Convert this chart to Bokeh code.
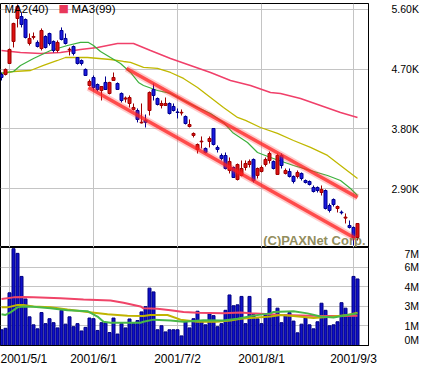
from bokeh.plotting import figure
from bokeh.layouts import column
from bokeh.models import ColumnDataSource, Range1d, FixedTicker, Grid, Label
from bokeh.embed import file_html
from bokeh.resources import INLINE

# ---------------- data ----------------
opens = [4620, 4620, 4786, 5118, 5464, 5494, 5449, 5087, 5180, 5103,
         5012, 5193, 5238, 5118, 4982, 5283, 5163, 4990, 5042, 4876,
         4831, 4696, 4454, 4575, 4469, 4379, 4500, 4334, 4530, 4484,
         4334, 4250, 4183, 4093, 4077, 3890, 3930, 4077, 4394, 4258,
         4153, 4153, 4183, 4138, 4055, 4040, 3987, 3836, 3701, 3490,
         3605, 3505, 3610, 3806, 3520, 3399, 3399, 3173, 3218, 3037,
         3098, 3218, 3263, 3339, 3098, 3158, 3263, 3324, 3309, 3113,
         3399, 3128, 3158, 3083, 3083, 3128, 3022, 3007, 2917, 2917,
         2841, 2871, 2645, 2736, 2600, 2545, 2455, 2344, 2314, 2163]
highs = [4650, 4711, 5012, 5400, 5675, 5555, 5464, 5238, 5253, 5133,
         5314, 5210, 5250, 5133, 5133, 5329, 5238, 5027, 5057, 4880,
         4846, 4711, 4545, 4605, 4484, 4445, 4590, 4510, 4650, 4500,
         4349, 4288, 4304, 4183, 4108, 4183, 4017, 4364, 4484, 4273,
         4228, 4273, 4198, 4183, 4108, 4093, 4002, 3942, 3746, 3580,
         3686, 3520, 3686, 3810, 3550, 3429, 3444, 3369, 3233, 3278,
         3324, 3324, 3339, 3354, 3218, 3248, 3369, 3459, 3324, 3429,
         3429, 3203, 3203, 3098, 3173, 3143, 3037, 3022, 2947, 2932,
         2947, 2887, 2675, 2751, 2645, 2570, 2525, 2419, 2329, 2374]
lows = [4530, 4605, 4780, 5027, 5329, 5329, 5163, 5057, 5148, 5027,
        4982, 5012, 5057, 4952, 4952, 5133, 5072, 4907, 4907, 4770,
        4756, 4600, 4439, 4379, 4364, 4228, 4390, 4320, 4525, 4390,
        4198, 4198, 4123, 4077, 3897, 3881, 3821, 4002, 4228, 4153,
        4108, 4150, 4017, 4062, 3957, 4002, 3866, 3821, 3671, 3429,
        3505, 3429, 3520, 3550, 3444, 3324, 3188, 3128, 3060, 3022,
        3083, 3173, 3218, 2992, 3052, 3143, 3233, 3278, 3188, 3113,
        3203, 3113, 3067, 2977, 3052, 3022, 2977, 2947, 2841, 2841,
        2796, 2585, 2540, 2630, 2540, 2510, 2374, 2299, 2042, 2118]
closes = [4575, 4696, 4997, 5389, 5645, 5374, 5178, 5163, 5193, 5042,
          5283, 5027, 5087, 4982, 5103, 5148, 5087, 5000, 4937, 4786,
          4786, 4605, 4515, 4424, 4394, 4439, 4394, 4500, 4575, 4394,
          4228, 4265, 4273, 4123, 3942, 3900, 3900, 4349, 4304, 4168,
          4183, 4183, 4032, 4077, 4047, 4050, 3881, 3866, 3731, 3565,
          3615, 3444, 3655, 3565, 3490, 3354, 3203, 3309, 3067, 3263,
          3203, 3278, 3309, 3022, 3203, 3218, 3339, 3429, 3203, 3399,
          3248, 3173, 3083, 3007, 3143, 3052, 2992, 2962, 2856, 2871,
          2887, 2600, 2570, 2660, 2630, 2535, 2470, 2314, 2163, 2374]
# volume in millions of shares
volumes = [1.18, 1.29, 3.95, 7.26, 6.91, 5.18, 3.49, 2.15, 1.55, 1.25,
           2.47, 1.64, 2.01, 1.71, 1.32, 2.64, 1.60, 2.15, 1.41, 1.64,
           1.09, 1.36, 2.06, 2.01, 1.13, 1.71, 1.71, 0.97, 2.06, 0.86,
           1.64, 1.32, 1.99, 1.64, 1.87, 2.52, 2.91, 4.30, 4.02, 1.18,
           1.48, 1.02, 1.18, 1.18, 1.18, 0.72, 1.78, 1.32, 2.01, 2.57,
           1.83, 1.55, 2.38, 2.24, 1.41, 1.64, 2.64, 3.79, 2.98, 3.05,
           3.68, 1.64, 3.68, 2.33, 2.00, 1.64, 2.29, 3.51, 2.29, 2.80,
           1.71, 2.29, 2.47, 1.83, 0.95, 1.60, 2.06, 1.55, 1.25, 1.78,
           3.17, 2.64, 1.48, 1.55, 1.78, 3.21, 2.80, 2.30, 5.18, 4.99]

# moving averages (bar index, value)
ma1_x = [0, 3, 4.75, 8, 12.25, 16.5, 19.75, 21.75, 23, 24.75, 27.25, 29.75, 32.25, 34.25,
         35.5, 39, 42.25, 45.5, 49, 52.25, 55.5, 57.75, 61.5, 64, 67.25, 73, 77.25, 81.5,
         84.75, 87.25, 89]
ma1_y = [4640, 4665, 4756, 4861, 4982, 5057, 5103, 5103, 5057, 4967, 4876, 4786, 4650, 4500,
         4454, 4379, 4334, 4228, 4123, 4032, 3897, 3746, 3595, 3444, 3369, 3248, 3173, 3098,
         3022, 2902, 2796]
ma2_x = [0, 3, 7.25, 10.5, 14, 16, 21.5, 27.25, 30.5, 32.25, 35.5, 39, 42.25, 45.5, 49,
         52.25, 55.5, 59, 61, 64.75, 69, 73, 77.25, 81.5, 84.75, 89]
ma2_y = [4635, 4665, 4680, 4756, 4831, 4876, 4876, 4846, 4816, 4801, 4726, 4711, 4650, 4560,
         4424, 4273, 4123, 3972, 3927, 3821, 3731, 3625, 3520, 3400, 3248, 3052]
ma3_x = [0, 4.75, 9.75, 14.75, 19.75, 24, 29, 33, 37.25, 42.25, 47.25, 52.25, 57.25, 62.25,
         67.25, 69.75, 74.75, 79.75, 84.75, 89]
ma3_y = [4982, 4952, 4937, 4952, 4997, 5027, 5087, 5087, 4982, 4861, 4756, 4650, 4530, 4454,
         4349, 4334, 4258, 4153, 4047, 3972]

# trend channel
chan_up_x = [31.25, 89]
chan_up_y = [4711, 2766]
chan_lo_x = [21.75, 88.5]
chan_lo_y = [4424, 2148]

# volume moving averages
vma1_x = [0, 1, 2.25, 4, 5.5, 8, 12.25, 16.5, 21.5, 24, 25.5, 27.25, 34.75, 35.5, 38, 42.25,
          45.5, 50.5, 55.5, 59, 63, 67.25, 68, 73, 76.5, 79.75, 83, 86.5, 89]
vma1_y = [2.34, 2.29, 2.48, 2.86, 2.93, 2.91, 2.79, 2.64, 2.57, 2.17, 1.78, 1.71, 1.71, 1.78,
          1.94, 1.87, 1.78, 1.89, 1.87, 2.01, 2.24, 2.41, 2.52, 2.57, 2.41, 2.17, 2.10, 2.29, 2.41]
vma2_x = [0, 1.5, 4, 5.5, 8, 12.25, 16.5, 21.5, 26.5, 31.5, 35.5, 37.25, 41.5, 44.75, 49,
          53.75, 57.25, 59.75, 64, 67.25, 69.75, 73, 78, 83, 86.5, 89]
vma2_y = [2.86, 2.86, 3.03, 3.03, 2.93, 2.86, 2.70, 2.52, 2.34, 2.24, 2.22, 2.29, 2.29, 1.94,
          1.78, 1.78, 1.87, 2.01, 2.10, 2.17, 2.29, 2.22, 2.06, 2.17, 2.29, 2.45]
vma3_x = [0, 3, 5.5, 8, 14.75, 20.5, 27.25, 30.5, 34.75, 35.5, 39, 42.25, 45.5, 49, 55.5,
          59.75, 62.25, 67.25, 69.75, 77.25, 84.75, 89]
vma3_y = [3.49, 3.61, 3.63, 3.61, 3.54, 3.45, 3.38, 3.21, 2.93, 2.79, 2.75, 2.64, 2.52, 2.45,
          2.41, 2.48, 2.41, 2.34, 2.29, 2.24, 2.22, 2.24]

date_ticks = [2, 23, 44, 65, 88]
date_labels = ["2001/5/1", "2001/6/1", "2001/7/2", "2001/8/1", "2001/9/3"]
price_ticks = [2900, 3800, 4700, 5600]
price_labels = ["2.90K", "3.80K", "4.70K", "5.60K"]
vol_grid_ticks = [1.47, 2.94, 4.41, 5.88]
vol_ticks = [0.45, 1.47, 2.94, 4.41, 5.88, 6.97]
vol_labels = ["0M", "1M", "3M", "4M", "6M", "7M"]

# ---------------- sources ----------------
n = len(opens)
idx = list(range(n))
up = [c >= o for o, c in zip(opens, closes)]
csrc = ColumnDataSource(dict(
    x=idx,
    top=[max(o, c) for o, c in zip(opens, closes)],
    bottom=[min(o, c) for o, c in zip(opens, closes)],
    high=highs, low=lows,
    fill=["#dd1111" if u else "#1a1ae0" for u in up],
    line=["#a00000" if u else "#000090" for u in up],
))
vsrc = ColumnDataSource(dict(x=idx, vol=volumes))

FONT = "Liberation Sans"
GRID = "#c4c4c4"
FW = 368
RB = 45
PH = 244
VH = 98
xr = Range1d(-0.25, 91.75)

# ---------------- price panel ----------------
p1 = figure(frame_width=FW, frame_height=PH, x_range=xr, y_range=Range1d(2012, 5690),
            output_backend="svg", toolbar_location=None, y_axis_location="right",
            x_axis_location=None, min_border_left=0, min_border_right=RB,
            min_border_top=3, min_border_bottom=0,
            background_fill_color="white", border_fill_color="white",
            outline_line_color="black", outline_line_width=1)
p1.xgrid.visible = False
p1.ygrid.visible = False
p1.add_layout(Grid(dimension=0, ticker=FixedTicker(ticks=date_ticks), grid_line_color=GRID))
p1.add_layout(Grid(dimension=1, ticker=FixedTicker(ticks=price_ticks), grid_line_color=GRID))

p1.line(ma3_x, ma3_y, line_color="#f0406a", line_width=1.6)
p1.line(ma2_x, ma2_y, line_color="#c0b800", line_width=1.3)
p1.line(ma1_x, ma1_y, line_color="#3cb03c", line_width=1.2)

p1.segment(x0="x", y0="high", x1="x", y1="low", line_color="line", line_width=1, source=csrc)
p1.vbar(x="x", top="top", bottom="bottom", width=0.75, fill_color="fill",
        line_color="line", line_width=1, source=csrc)

for xs, ys in ((chan_up_x, chan_up_y), (chan_lo_x, chan_lo_y)):
    p1.line(xs, ys, line_color="#ff3030", line_width=7, line_alpha=0.25)
    p1.line(xs, ys, line_color="#ff2020", line_width=3.5, line_alpha=0.75)

ax = p1.yaxis[0]
ax.ticker = FixedTicker(ticks=price_ticks)
ax.major_label_overrides = dict(zip(price_ticks, price_labels))
ax.axis_line_color = "black"
ax.major_tick_line_color = None
ax.minor_tick_line_color = None
ax.major_label_standoff = 17
ax.major_label_text_font = FONT
ax.major_label_text_font_size = "10.5px"
ax.major_label_text_color = "black"

p1.add_layout(Label(x=4, y=PH - 5, x_units="screen", y_units="screen", text="MA2(40)",
                    text_font=FONT, text_font_size="11.5px", text_baseline="middle",
                    text_color="black"))
p1.add_layout(Label(x=58, y=PH - 5, x_units="screen", y_units="screen", text="\u25a0",
                    text_font="DejaVu Sans", text_font_size="11px", text_baseline="middle",
                    text_color="#e8385a"))
p1.add_layout(Label(x=71, y=PH - 5, x_units="screen", y_units="screen", text="MA3(99)",
                    text_font=FONT, text_font_size="11.5px", text_baseline="middle",
                    text_color="black"))
p1.add_layout(Label(x=FW - 3, y=7, x_units="screen", y_units="screen", text="(C)PAXNet Corp.",
                    text_font=FONT, text_font_size="13px", text_font_style="bold",
                    text_align="right", text_baseline="alphabetic",
                    text_color="#847e48", text_alpha=0.9))

# ---------------- volume panel ----------------
p2 = figure(frame_width=FW, frame_height=VH, x_range=xr, y_range=Range1d(0, 7.35),
            output_backend="svg", toolbar_location=None, y_axis_location="right",
            min_border_left=0, min_border_right=RB, min_border_top=0, min_border_bottom=0,
            background_fill_color="white", border_fill_color="white",
            outline_line_color="black", outline_line_width=1)
p2.xgrid.visible = False
p2.ygrid.visible = False
p2.add_layout(Grid(dimension=0, ticker=FixedTicker(ticks=date_ticks), grid_line_color=GRID))
p2.add_layout(Grid(dimension=1, ticker=FixedTicker(ticks=vol_grid_ticks), grid_line_color=GRID))

p2.vbar(x="x", top="vol", bottom=0, width=0.75, fill_color="#1010c8", line_color="#000080",
        line_width=1, source=vsrc)
p2.line(vma3_x, vma3_y, line_color="#f04468", line_width=2)
p2.line(vma2_x, vma2_y, line_color="#c0b400", line_width=2)
p2.line(vma1_x, vma1_y, line_color="#48b848", line_width=2)

vx = p2.yaxis[0]
vx.ticker = FixedTicker(ticks=vol_ticks)
vx.major_label_overrides = dict(zip(vol_ticks, vol_labels))
vx.axis_line_color = "black"
vx.major_tick_line_color = None
vx.minor_tick_line_color = None
vx.major_label_standoff = 30
vx.major_label_text_font = FONT
vx.major_label_text_font_size = "10.5px"
vx.major_label_text_color = "black"

bx = p2.xaxis[0]
bx.ticker = FixedTicker(ticks=date_ticks)
bx.major_label_overrides = dict(zip(date_ticks, date_labels))
bx.axis_line_color = "black"
bx.major_tick_line_color = None
bx.minor_tick_line_color = None
bx.major_label_standoff = 0
bx.major_label_text_font = FONT
bx.major_label_text_font_size = "12px"
bx.major_label_text_color = "black"

layout = column(p1, p2, spacing=0)
open("out.html", "w").write(file_html(layout, INLINE))
